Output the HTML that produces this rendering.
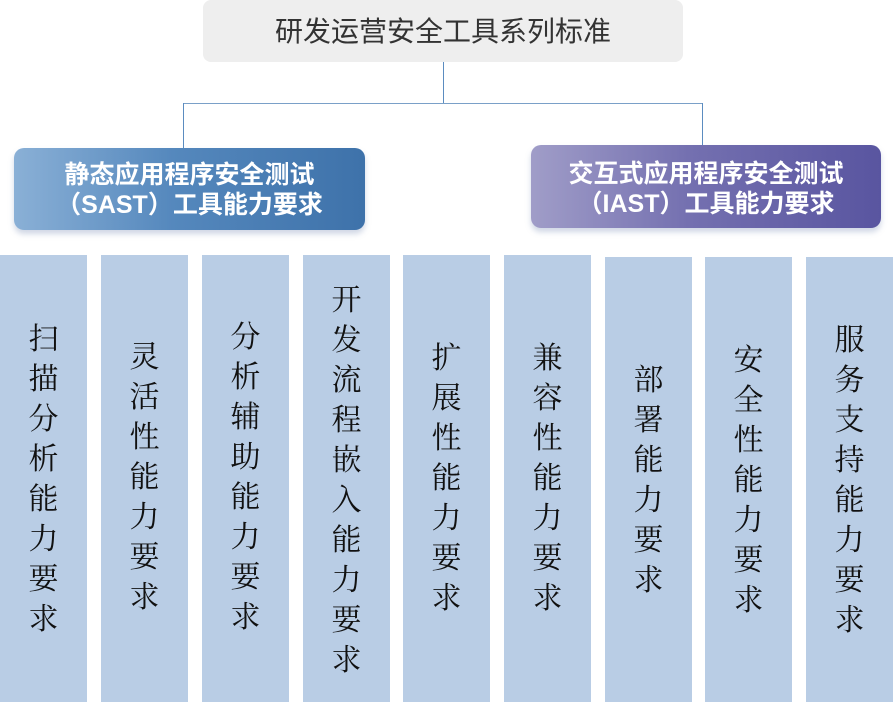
<!DOCTYPE html>
<html><head><meta charset="utf-8"><style>
body{margin:0;width:893px;height:702px;background:#fff;position:relative;overflow:hidden;font-family:"Liberation Sans","Noto Sans CJK SC",sans-serif}
.a{position:absolute}
.top{left:203px;top:0;width:480px;height:62px;background:#eeeeee;border-radius:8px;text-align:center;line-height:64px;font-size:28px;color:#333}
.ln{background:#5b8cc0}
.hb{border-radius:10px;color:#fff;font-weight:bold;font-size:25px;line-height:30px;text-align:center;box-shadow:0 4px 6px rgba(120,140,180,.35);white-space:nowrap}
.col{background:#b9cde5;width:87px;bottom:0}
.t{position:absolute;left:0;width:100%;text-align:center;font-family:"Liberation Serif","Noto Serif CJK SC",serif;font-size:30px;line-height:40px;color:#111}
</style></head><body>
<div class="a top">研发运营安全工具系列标准</div>
<div class="a ln" style="left:443px;top:62px;width:1px;height:41px"></div>
<div class="a ln" style="left:183px;top:103px;width:520px;height:1px;background:#7aa0c8"></div>
<div class="a ln" style="left:183px;top:103px;width:1px;height:45px"></div>
<div class="a ln" style="left:702px;top:103px;width:1px;height:42px"></div>
<div class="a hb" style="left:14px;top:148px;width:351px;height:82px;background:linear-gradient(90deg,#8ab0d6,#5588bd 45%,#3e72aa);padding-top:12px;box-sizing:border-box">静态应用程序安全测试<br>（SAST）工具能力要求</div>
<div class="a hb" style="left:531px;top:145px;width:350px;height:83px;background:linear-gradient(90deg,#a09dc8,#7470b0 45%,#5955a0);padding-top:14px;box-sizing:border-box">交互式应用程序安全测试<br>（IAST）工具能力要求</div>

<div class="a col" style="left:0;top:255px"><div class="t" style="top:65px">扫<br>描<br>分<br>析<br>能<br>力<br>要<br>求</div></div>
<div class="a col" style="left:101px;top:255px"><div class="t" style="top:83px">灵<br>活<br>性<br>能<br>力<br>要<br>求</div></div>
<div class="a col" style="left:202px;top:255px"><div class="t" style="top:63px">分<br>析<br>辅<br>助<br>能<br>力<br>要<br>求</div></div>
<div class="a col" style="left:303px;top:255px"><div class="t" style="top:26px">开<br>发<br>流<br>程<br>嵌<br>入<br>能<br>力<br>要<br>求</div></div>
<div class="a col" style="left:403px;top:255px"><div class="t" style="top:84px">扩<br>展<br>性<br>能<br>力<br>要<br>求</div></div>
<div class="a col" style="left:504px;top:255px"><div class="t" style="top:84px">兼<br>容<br>性<br>能<br>力<br>要<br>求</div></div>
<div class="a col" style="left:605px;top:257px"><div class="t" style="top:104px">部<br>署<br>能<br>力<br>要<br>求</div></div>
<div class="a col" style="left:705px;top:257px"><div class="t" style="top:84px">安<br>全<br>性<br>能<br>力<br>要<br>求</div></div>
<div class="a col" style="left:806px;top:257px"><div class="t" style="top:64px">服<br>务<br>支<br>持<br>能<br>力<br>要<br>求</div></div>
</body></html>
